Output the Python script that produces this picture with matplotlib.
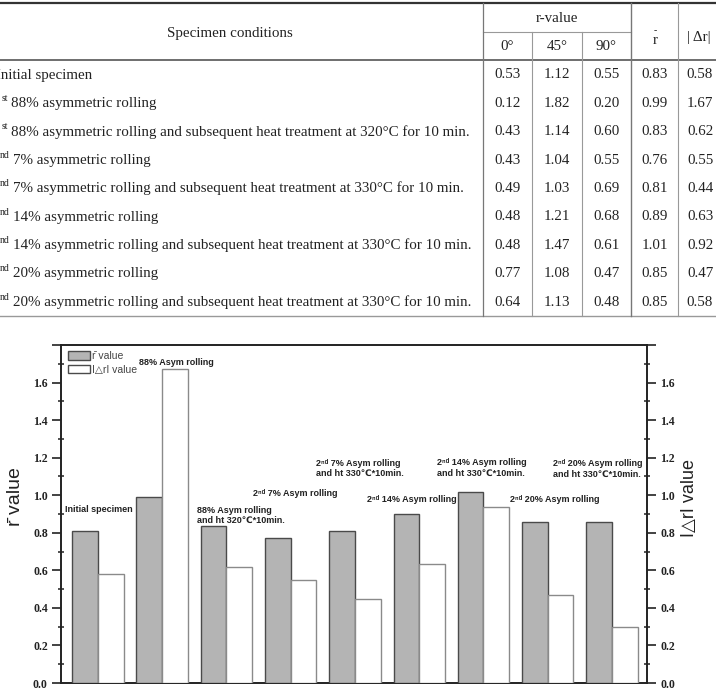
import matplotlib
matplotlib.use("Agg")
import matplotlib.pyplot as plt
from matplotlib.lines import Line2D
from matplotlib.patches import Patch
from matplotlib.ticker import FixedLocator, FuncFormatter
import numpy as np

# ---------------- data ----------------
conditions = [
    ("", "Initial specimen"),
    ("st", "88% asymmetric rolling"),
    ("st", "88% asymmetric rolling and subsequent heat treatment at 320\u00b0C for 10 min."),
    ("nd", "7% asymmetric rolling"),
    ("nd", "7% asymmetric rolling and subsequent heat treatment at 330\u00b0C for 10 min."),
    ("nd", "14% asymmetric rolling"),
    ("nd", "14% asymmetric rolling and subsequent heat treatment at 330\u00b0C for 10 min."),
    ("nd", "20% asymmetric rolling"),
    ("nd", "20% asymmetric rolling and subsequent heat treatment at 330\u00b0C for 10 min."),
]
r0 = ["0.53", "0.12", "0.43", "0.43", "0.49", "0.48", "0.48", "0.77", "0.64"]
r45 = ["1.12", "1.82", "1.14", "1.04", "1.03", "1.21", "1.47", "1.08", "1.13"]
r90 = ["0.55", "0.20", "0.60", "0.55", "0.69", "0.68", "0.61", "0.47", "0.48"]
rbar_tab = ["0.83", "0.99", "0.83", "0.76", "0.81", "0.89", "1.01", "0.85", "0.85"]
dr_tab = ["0.58", "1.67", "0.62", "0.55", "0.44", "0.63", "0.92", "0.47", "0.58"]

# chart values
rbar_vals = [0.81, 0.99, 0.835, 0.77, 0.81, 0.90, 1.015, 0.86, 0.86]
dr_vals = [0.58, 1.67, 0.62, 0.55, 0.445, 0.635, 0.935, 0.47, 0.30]
annotations = [
    "Initial specimen",
    "88% Asym rolling",
    "88% Asym rolling\nand ht 320\u2103*10min.",
    "2\u207f\u1d48 7% Asym rolling",
    "2\u207f\u1d48 7% Asym rolling\nand ht 330\u2103*10min.",
    "2\u207f\u1d48 14% Asym rolling",
    "2\u207f\u1d48 14% Asym rolling\nand ht 330\u2103*10min.",
    "2\u207f\u1d48 20% Asym rolling",
    "2\u207f\u1d48 20% Asym rolling\nand ht 330\u2103*10min.",
]
yticks = [0.0, 0.2, 0.4, 0.6, 0.8, 1.0, 1.2, 1.4, 1.6, 1.8]

W, H = 716, 690
fig = plt.figure(figsize=(W / 100, H / 100), dpi=100)


def fx(p):
    return p / W


def fy(p):
    return 1 - p / H


def hline(y, x0, x1, lw, c):
    fig.add_artist(Line2D([fx(x0), fx(x1)], [fy(y), fy(y)], lw=lw, color=c))


def vline(x, y0, y1, lw, c):
    fig.add_artist(Line2D([fx(x), fx(x)], [fy(y0), fy(y1)], lw=lw, color=c))


serif = ["Liberation Serif", "DejaVu Serif"]
sans = ["Liberation Sans", "DejaVu Sans"]
TFS = 10.8

# ---------------- table ----------------
hline(3, 0, W, 1.6, "#333333")
hline(32, 483, 631, 0.8, "#999999")
hline(60, 0, W, 1.2, "#555555")
hline(316, 0, W, 1.0, "#999999")
vline(483, 3, 316, 0.9, "#777777")
vline(532, 32, 316, 0.8, "#999999")
vline(582, 32, 316, 0.8, "#999999")
vline(631, 3, 316, 1.0, "#777777")
vline(678, 3, 316, 0.8, "#999999")

fig.text(fx(230), fy(33), "Specimen conditions", family=serif, fontsize=TFS,
         ha="center", va="center", color="#222222")
fig.text(fx(557), fy(19), "r-value", family=serif, fontsize=TFS, ha="center",
         va="center", color="#222222")
for xc, lab in zip([507.5, 557, 606.5], ["0\u00b0", "45\u00b0", "90\u00b0"]):
    fig.text(fx(xc), fy(47), lab, family=serif, fontsize=TFS, ha="center",
             va="center", color="#222222")
fig.text(fx(655), fy(41), "r", family=serif, fontsize=TFS, ha="center",
         va="center", color="#222222")
fig.text(fx(655), fy(31), "-", family=serif, fontsize=7, ha="center",
         va="center", color="#222222")
fig.text(fx(699), fy(38), "| \u0394r|", family=serif, fontsize=TFS, ha="center",
         va="center", color="#222222")

col_x = [507.5, 557, 606.5, 654.5, 700]
for i, (sup, body) in enumerate(conditions):
    yc = 75 + 28.4 * i
    if sup == "":
        fig.text(fx(-3.5), fy(yc), body, family=serif, fontsize=TFS,
                 ha="left", va="center", color="#222222")
    else:
        bx = 11 if sup == "st" else 13
        fig.text(fx(bx), fy(yc), body, family=serif, fontsize=TFS,
                 ha="left", va="center", color="#222222")
        fig.text(fx(bx - 3), fy(yc - 5), sup, family=serif, fontsize=7,
                 ha="right", va="center", color="#222222")
    for xc, vals in zip(col_x, [r0, r45, r90, rbar_tab, dr_tab]):
        fig.text(fx(xc), fy(yc), vals[i], family=serif, fontsize=TFS,
                 ha="center", va="center", color="#222222")

# ---------------- bar chart ----------------
ax = fig.add_axes([fx(61), fy(683), fx(647) - fx(61), fy(345) - fy(683)])
x = np.arange(len(rbar_vals))
ax.bar(x, rbar_vals, width=-0.4, align="edge", color="#b4b4b4",
       edgecolor="#4a4a4a", linewidth=1.0, zorder=3)
ax.bar(x, dr_vals, width=0.4, align="edge", color="white",
       edgecolor="#8a8a8a", linewidth=1.0, zorder=3)
ax.set_xlim(-0.575, 8.545)
ax.set_ylim(0, 1.8)
ax.set_xticks([])
ax.yaxis.set_major_locator(FixedLocator(yticks))
ax.yaxis.set_minor_locator(FixedLocator(np.arange(0.1, 1.75, 0.2)))
ax.yaxis.set_major_formatter(FuncFormatter(lambda v, p: "" if v > 1.7 else f"{v:.1f}"))
ax.yaxis.set_ticks_position("both")
ax.tick_params(axis="y", which="major", direction="out", length=6.5, width=1.2,
               labelsize=8.5, pad=3, labelright=True, labelleft=True,
               colors="#222222")
ax.tick_params(axis="y", which="minor", direction="inout", length=5, width=1.1,
               colors="#222222")
for lbl in ax.get_yticklabels():
    lbl.set_family(serif)
    lbl.set_weight("bold")
for sp in ax.spines.values():
    sp.set_linewidth(1.4)
    sp.set_color("#222222")

ann_pos = [(65, 509), (139, 362), (197, 515.5), (253, 493), (316, 468.5),
           (367, 500), (437, 468), (510, 500), (553, 469)]
for (px, py), t in zip(ann_pos, annotations):
    fig.text(fx(px), fy(py), t, family=sans, fontsize=6.5, fontweight="bold",
             ha="left", va="center", linespacing=1.15, color="#222222")

handles = [Patch(facecolor="#b4b4b4", edgecolor="#4a4a4a", lw=1.0),
           Patch(facecolor="white", edgecolor="#4a4a4a", lw=1.0)]
leg = ax.legend(handles, ["r\u0304 value", "I\u25b3rI value"], loc="upper left",
                bbox_to_anchor=(fx(68), fy(351)), bbox_transform=fig.transFigure,
                frameon=False, handlelength=2.1, handleheight=0.85,
                handletextpad=0.25, labelspacing=0.35, borderpad=0,
                borderaxespad=0, prop={"family": sans, "size": 7.5})
for t in leg.get_texts():
    t.set_color("#444444")

fig.text(fx(16), fy(497), "r\u0304 value", family=sans, fontsize=14,
         rotation=90, ha="center", va="center", color="#222222")
fig.text(fx(690), fy(498), "I\u25b3rI value", family=sans, fontsize=13,
         rotation=90, ha="center", va="center", color="#222222")

fig.savefig("out.png", dpi=100)
